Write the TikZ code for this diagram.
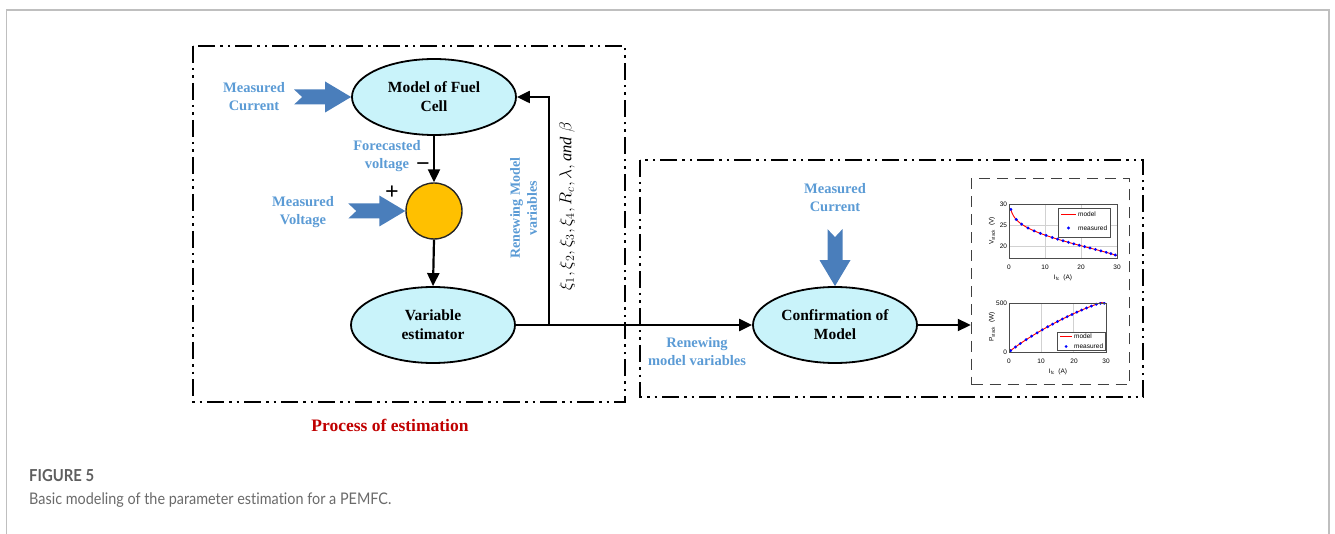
\documentclass[tikz,border=0pt]{standalone}
\usepackage{fontspec}
\setmainfont{Liberation Serif}
\newfontfamily\capfont[Ligatures=NoCommon, FakeStretch=0.9]{Lato}
\newfontfamily\plotfont{Liberation Sans}
\usetikzlibrary{arrows.meta,shapes.geometric,calc}

\definecolor{ellfill}{HTML}{C9F3FA}
\definecolor{sumfill}{HTML}{FFC000}
\definecolor{inblue}{HTML}{4A7EBB}
\definecolor{txtblue}{HTML}{5B9BD5}
\definecolor{procred}{HTML}{C00000}
\definecolor{capgray}{HTML}{5E5E5E}
\definecolor{capbody}{HTML}{6A6A6A}

\tikzset{
  blk/.style={ellipse, draw=black, line width=1.8pt, fill=ellfill,
    minimum width=164pt, minimum height=76pt, inner sep=0pt, align=center,
    font=\fontsize{15.5}{19}\selectfont\bfseries},
  sumnode/.style={circle, draw=black!85, line width=1.4pt, fill=sumfill,
    minimum size=56pt, inner sep=0pt},
  conn/.style={line width=2.2pt, -{Triangle[length=13pt,width=12pt]}},
  plainline/.style={line width=2.2pt},
  bluetxt/.style={text=txtblue, align=center, inner sep=0pt,
    font=\fontsize{14.5}{18}\selectfont\bfseries},
  frame/.style={line width=2.6pt,
    dash pattern=on 17pt off 5pt on 2.5pt off 5pt on 2.5pt off 5pt},
  plotframe/.style={draw=black!75, line width=1.5pt,
    dash pattern=on 11pt off 7pt},
  fatarrow/.pic={
    \fill[inblue] (-57,-7.5) -- (-26,-7.5) -- (-26,-15.5) -- (0,0)
      -- (-26,15.5) -- (-26,7.5) -- (-57,7.5) -- (-49,0) -- cycle;},
  tick/.style={font=\plotfont\fontsize{6.5}{7}\selectfont, inner sep=0.8pt},
  axlab/.style={font=\plotfont\fontsize{6.5}{7}\selectfont, inner sep=0pt},
  axbox/.style={draw=black!70, line width=0.7pt},
  gridln/.style={draw=black!18, line width=0.5pt},
  modelcurve/.style={draw=red, line width=0.9pt},
  dot/.style={fill=blue}
}

\begin{document}
\begin{tikzpicture}[x=1pt,y=-1pt]
\useasboundingbox (0,0) rectangle (1335,534);

% page frame
\draw[black!25, line width=1.3pt] (6.5,534) -- (6.5,10) -- (1329,10) -- (1329,534);

% dash-dot group frames
\draw[frame] (193,46) rectangle (625,402);
\draw[frame] (640,160) rectangle (1143,397);

% main blocks
\node[blk] (mfc) at (434,97) {Model of Fuel\\Cell};
\node[sumnode] (sum) at (434,211) {};
\node[blk] (ve) at (433,325) {Variable\\estimator};
\node[blk] (conf) at (835,325) {Confirmation of\\Model};

% result plots box
\node[plotframe, minimum width=158pt, minimum height=206pt, inner sep=0pt]
  (plots) at (1050.5,281.5) {};

% connectors
\draw[conn] (mfc.south) -- (sum.north);
\draw[conn] (sum.south) -- (ve.north);
\coordinate (split) at (549,325);
\draw[plainline] (ve.east) -- (split);
\draw[conn] (split) |- (mfc.east);
\draw[conn] (split) -- (conf.west);
\draw[conn] (conf.east) -- (conf.east -| plots.west);

% measured inputs
\pic at (mfc.west) {fatarrow};
\pic at (sum.west) {fatarrow};
\pic[rotate=-90] at (conf.north) {fatarrow};

% labels
\node[bluetxt] (lmc) at (254,97) {Measured\\Current};
\node[bluetxt] (lfv) at (387,156) {Forecasted\\voltage};
\node[font=\fontsize{24}{24}\selectfont\bfseries, inner sep=0pt] (lminus) at (423,167) {−};
\node[font=\fontsize{24}{24}\selectfont\bfseries, inner sep=0pt] (lplus) at (392,193) {+};
\node[bluetxt] (lmv) at (303,212) {Measured\\Voltage};
\node[bluetxt, rotate=90, font=\fontsize{14}{17}\selectfont\bfseries] (lrmv) at (523.5,208) {Renewing Model\\variables};
\node[rotate=90, inner sep=0pt, font=\fontsize{16.5}{19}\selectfont] (lpar) at (567,206)
  {$\xi_1, \xi_2, \xi_3, \xi_4, R_c, \lambda, \mathit{and}\;\beta$};
\node[text=procred, inner sep=0pt, font=\fontsize{17.5}{20}\selectfont\bfseries] (lproc) at (390,425) {Process of estimation};
\node[bluetxt] (lmc2) at (835,198) {Measured\\Current};
\node[bluetxt] (lrmv2) at (697,352) {Renewing\\model variables};

% upper plot: stack voltage
\begin{scope}[shift={(1009,258)}, x=3.6pt, y=4.2pt]
  \draw[gridln] (10,0) -- (10,12.86) (20,0) -- (20,12.86)
                (0,2.86) -- (30,2.86) (0,7.86) -- (30,7.86);
  \begin{scope}
    \clip (0,0) rectangle (30,12.86);
    \draw[modelcurve] plot[domain=0.5:30, samples=80, smooth]
      (\x, {27.686 - 1.587*ln(\x) - 0.143*\x - 0.3*exp((\x-30)/3) - 17.14});
    \foreach \i in {0.5,2,3.5,5.3,7,8.7,10.3,12,13.5,15,16.5,18,19.5,21,22.5,24,25.5,27,28.3,29.5}
      \fill[dot] (\i, {27.686 - 1.587*ln(\i) - 0.143*\i - 0.3*exp((\i-30)/3) - 17.14}) circle[radius=1.6pt];
  \end{scope}
  \draw[axbox] (0,0) rectangle (30,12.86);
\end{scope}
\node[tick, anchor=east] (vt30) at (1008,204) {30};
\node[tick, anchor=east] (vt25) at (1008,225) {25};
\node[tick, anchor=east] (vt20) at (1008,246) {20};
\node[tick] (vx0) at (1009,267) {0};
\node[tick] (vx10) at (1045,267) {10};
\node[tick] (vx20) at (1081,267) {20};
\node[tick] (vx30) at (1117,267) {30};
\node[axlab, rotate=90] (vylab) at (992,231) {V\textsubscript{stack} \ (V)};
\node[axlab] (vxlab) at (1063,278) {I\textsubscript{fc} \ (A)};
\node[draw=black!70, fill=white, line width=0.6pt, minimum width=52pt, minimum height=29pt, inner sep=0pt] (vleg) at (1084,222.5) {};
\draw[modelcurve] (1061,214) -- (1076,214);
\fill[dot] (1068.5,228) circle[radius=1.6pt];
\node[axlab, anchor=west] (vlegm) at (1078,214) {model};
\node[axlab, anchor=west] (vlegd) at (1078,228) {measured};

% lower plot: stack power
\begin{scope}[shift={(1009,352)}, x=3.23pt, y=0.098pt]
  \draw[gridln] (10,0) -- (10,500) (20,0) -- (20,500);
  \begin{scope}
    \clip (0,0) rectangle (30,500);
    \draw[modelcurve] plot[domain=0.5:30, samples=80, smooth]
      (\x, {0.975*\x*(27.686 - 1.587*ln(\x) - 0.143*\x - 0.3*exp((\x-30)/3))});
    \foreach \i in {0.5,2,3.5,5.3,7,8.7,10.3,12,13.5,15,16.5,18,19.5,21,22.5,24,25.5,27,28.3,29.5}
      \fill[dot] (\i, {min(497,0.975*\i*(27.686 - 1.587*ln(\i) - 0.143*\i - 0.3*exp((\i-30)/3)))}) circle[radius=1.6pt];
  \end{scope}
  \draw[axbox] (0,0) rectangle (30,500);
\end{scope}
\node[tick, anchor=east] (pt500) at (1008,303) {500};
\node[tick, anchor=east] (pt0) at (1008,352) {0};
\node[tick] (px0) at (1009,361) {0};
\node[tick] (px10) at (1041,361) {10};
\node[tick] (px20) at (1074,361) {20};
\node[tick] (px30) at (1106,361) {30};
\node[axlab, rotate=90] (pylab) at (992,327) {P\textsubscript{stack} \ (W)};
\node[axlab] (pxlab) at (1058,372) {I\textsubscript{fc} \ (A)};
\node[draw=black!70, fill=white, line width=0.6pt, minimum width=48pt, minimum height=18pt, inner sep=0pt] (pleg) at (1081,341.5) {};
\draw[modelcurve] (1060,336.5) -- (1072,336.5);
\fill[dot] (1066,346.5) circle[radius=1.5pt];
\node[axlab, anchor=west] (plegm) at (1074,336.5) {model};
\node[axlab, anchor=west] (plegd) at (1074,346.5) {measured};

% caption
\node[anchor=base west, inner sep=0pt, text=capgray, font=\capfont\fontsize{16.5}{20}\selectfont\bfseries] (capa) at (29,481) {FIGURE 5};
\node[anchor=base west, inner sep=0pt, text=capbody, font=\capfont\fontsize{16}{19}\selectfont] (capb) at (29,504) {Basic modeling of the parameter estimation for a PEMFC.};
\end{tikzpicture}
\end{document}
